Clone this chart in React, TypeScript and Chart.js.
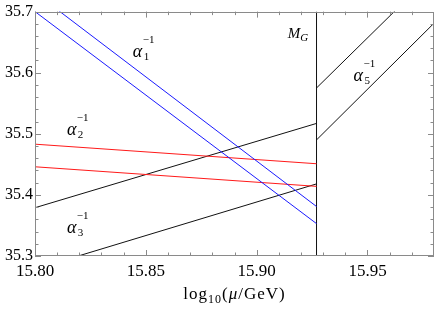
import React, { useEffect, useRef } from "react";
import { Chart, registerables } from "chart.js";

Chart.register(...registerables);

const xMin = 15.8;
const xMax = 15.98;
const yMin = 35.3;
const yMax = 35.7;
const xMajorTicks = [15.8, 15.85, 15.9, 15.95];
const xMinorTicks = [15.81, 15.82, 15.83, 15.84, 15.86, 15.87, 15.88, 15.89, 15.91, 15.92, 15.93, 15.94, 15.96, 15.97];
const yMajorTicks = [35.3, 35.4, 35.5, 35.6, 35.7];
const yMinorTicks = [35.32, 35.34, 35.36, 35.38, 35.42, 35.44, 35.46, 35.48, 35.52, 35.54, 35.56, 35.58, 35.62, 35.64, 35.66, 35.68];

const mG = 15.927;
const alpha1Upper = [{ x: 15.8, y: 35.731 }, { x: mG, y: 35.381 }];
const alpha1Lower = [{ x: 15.8, y: 35.7 }, { x: mG, y: 35.353 }];
const alpha2Upper = [{ x: 15.8, y: 35.483 }, { x: mG, y: 35.451 }];
const alpha2Lower = [{ x: 15.8, y: 35.446 }, { x: mG, y: 35.414 }];
const alpha3Upper = [{ x: 15.8, y: 35.379 }, { x: mG, y: 35.517 }];
const alpha3Lower = [{ x: 15.8195, y: 35.3 }, { x: mG, y: 35.418 }];
const alpha5Upper = [{ x: mG, y: 35.575 }, { x: 15.98, y: 35.764 }];
const alpha5Lower = [{ x: mG, y: 35.49 }, { x: 15.98, y: 35.681 }];
const mGLine = [{ x: mG, y: 35.3 }, { x: mG, y: 35.7 }];

const alphaLabels = [
  { sub: "1", x: 15.8441, y: 35.6252 },
  { sub: "2", x: 15.8144, y: 35.4984 },
  { sub: "3", x: 15.8144, y: 35.3374 },
  { sub: "5", x: 15.9437, y: 35.5862 },
];
const mGLabel = { x: 15.914, y: 35.6561 };

const SERIF = "'Liberation Serif', 'DejaVu Serif', serif";

const decorPlugin = {
  id: "decor",
  afterDatasetsDraw(chart: any) {
    const ctx = chart.ctx as CanvasRenderingContext2D;
    const xs = chart.scales.x;
    const ys = chart.scales.y;
    const { left, right, top, bottom } = chart.chartArea;
    ctx.save();
    ctx.strokeStyle = "#8a8a8a";
    ctx.lineWidth = 1;
    ctx.strokeRect(Math.round(left) + 0.5, Math.round(top) + 0.5, Math.round(right - left) - 1, Math.round(bottom - top) - 1);
    const drawX = (vals: number[], len: number) => {
      vals.forEach((v) => {
        const px = Math.round(xs.getPixelForValue(v)) + 0.5;
        ctx.beginPath();
        ctx.moveTo(px, bottom);
        ctx.lineTo(px, bottom - len);
        ctx.moveTo(px, top);
        ctx.lineTo(px, top + len);
        ctx.stroke();
      });
    };
    const drawY = (vals: number[], len: number) => {
      vals.forEach((v) => {
        const py = Math.round(ys.getPixelForValue(v)) + 0.5;
        ctx.beginPath();
        ctx.moveTo(left, py);
        ctx.lineTo(left + len, py);
        ctx.moveTo(right, py);
        ctx.lineTo(right - len, py);
        ctx.stroke();
      });
    };
    drawX(xMajorTicks, 6);
    drawX(xMinorTicks, 3.5);
    drawY(yMajorTicks, 6);
    drawY(yMinorTicks, 3.5);

    ctx.fillStyle = "#000";
    ctx.textBaseline = "alphabetic";
    ctx.textAlign = "left";
    alphaLabels.forEach((l) => {
      const px = xs.getPixelForValue(l.x);
      const py = ys.getPixelForValue(l.y);
      ctx.font = `italic 18px ${SERIF}`;
      ctx.fillText("α", px, py);
      const w = ctx.measureText("α").width;
      ctx.font = `11px ${SERIF}`;
      ctx.fillText("−1", px + w + 0.5, py - 14);
      ctx.fillText(l.sub, px + w + 1.5, py + 3);
    });
    {
      const px = xs.getPixelForValue(mGLabel.x);
      const py = ys.getPixelForValue(mGLabel.y);
      ctx.font = `italic 15px ${SERIF}`;
      ctx.fillText("M", px, py);
      const w = ctx.measureText("M").width;
      ctx.font = `italic 11px ${SERIF}`;
      ctx.fillText("G", px + w, py + 3);
    }
    {
      const parts = [
        { t: "log", f: `17px ${SERIF}`, dy: 0 },
        { t: "10", f: `12px ${SERIF}`, dy: 4 },
        { t: "(", f: `17px ${SERIF}`, dy: 0 },
        { t: "μ", f: `italic 17px ${SERIF}`, dy: 0 },
        { t: "/GeV)", f: `17px ${SERIF}`, dy: 0 },
      ];
      const spacing = 1;
      let total = 0;
      const widths = parts.map((p) => {
        ctx.font = p.f;
        const w = ctx.measureText(p.t).width + spacing * p.t.length;
        total += w;
        return w;
      });
      let x = (left + right) / 2 - total / 2;
      const base = 299;
      parts.forEach((p, i) => {
        ctx.font = p.f;
        let cx = x;
        for (const ch of p.t) {
          ctx.fillText(ch, cx, base + p.dy);
          cx += ctx.measureText(ch).width + spacing;
        }
        x += widths[i];
      });
    }
    ctx.restore();
  },
};

export default function App() {
  const ref = useRef<HTMLCanvasElement | null>(null);
  useEffect(() => {
    if (!ref.current) return;
    const line = (data: any[], color: string) => ({
      data,
      borderColor: color,
      borderWidth: 1,
      pointRadius: 0,
      fill: false,
      tension: 0,
    });
    const chart = new Chart(ref.current, {
      type: "line",
      data: {
        datasets: [
          line(alpha1Upper, "#1a1aff"),
          line(alpha1Lower, "#1a1aff"),
          line(alpha2Upper, "#ff1a1a"),
          line(alpha2Lower, "#ff1a1a"),
          line(alpha3Upper, "#111"),
          line(alpha3Lower, "#111"),
          line(alpha5Upper, "#111"),
          line(alpha5Lower, "#111"),
          line(mGLine, "#111"),
        ] as any,
      },
      options: {
        animation: false,
        responsive: true,
        maintainAspectRatio: false,
        layout: { padding: { top: 10, right: 2, left: 0, bottom: 0 } },
        plugins: { legend: { display: false }, tooltip: { enabled: false } },
        scales: {
          x: {
            type: "linear",
            min: xMin,
            max: xMax,
            grid: { display: false, drawTicks: false },
            border: { display: false },
            afterBuildTicks: (s: any) => {
              s.ticks = xMajorTicks.map((v) => ({ value: v }));
            },
            afterFit: (s: any) => {
              s.height = 54;
            },
            ticks: {
              padding: 5,
              color: "#000",
              font: { family: SERIF, size: 17 },
              maxRotation: 0,
              callback: (v: any) => Number(v).toFixed(2),
            },
          },
          y: {
            type: "linear",
            min: yMin,
            max: yMax,
            grid: { display: false, drawTicks: false },
            border: { display: false },
            afterBuildTicks: (s: any) => {
              s.ticks = yMajorTicks.map((v) => ({ value: v }));
            },
            afterFit: (s: any) => {
              s.width = 35;
            },
            ticks: {
              padding: 2,
              color: "#000",
              font: { family: SERIF, size: 16 },
              callback: (v: any) => Number(v).toFixed(1),
            },
          },
        },
      },
      plugins: [decorPlugin],
    });
    return () => chart.destroy();
  }, []);
  return (
    <div style={{ position: "fixed", left: 0, top: 0, width: 436, height: 310, background: "#fff" }}>
      <canvas ref={ref} />
    </div>
  );
}
